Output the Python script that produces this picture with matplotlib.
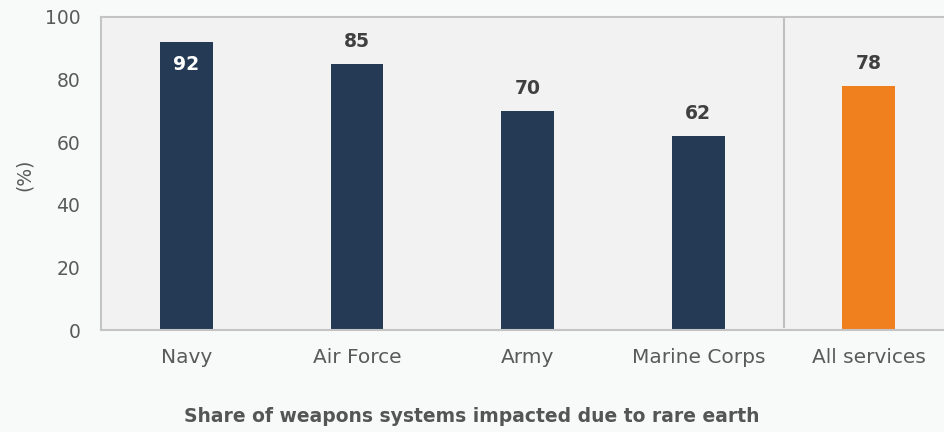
import numpy as np
import matplotlib.pyplot as plt

services = ['Navy', 'Air Force', 'Army', 'Marine Corps', 'All services']
share = [92, 85, 70, 62, 78]
bar_colors = ['#243a55', '#243a55', '#243a55', '#243a55', '#f0801e']
yticks = [0, 20, 40, 60, 80, 100]

plt.rcParams['font.family'] = ['DejaVu Sans']

fig = plt.figure(figsize=(9.44, 4.32), dpi=100, facecolor='#f8f9f9')
ax = fig.add_axes([101 / 944, 1 - 330 / 432, 843 / 944, 313 / 432])
ax.set_facecolor('#f2f2f2')

x = np.arange(len(services))
ax.bar(x, share, width=0.31, color=bar_colors, zorder=2)

# value labels: inside the bar when it reaches the top, above otherwise
for xi, v in zip(x, share):
    if v > 90:
        ax.text(xi, v - 4, str(v), ha='center', va='top', color='white',
                fontsize=13.5, fontweight='bold')
    else:
        ax.text(xi, v + 4.2, str(v), ha='center', va='bottom', color='#404040',
                fontsize=13.5, fontweight='bold')

# separator between individual services and the total
ax.plot([3.5, 3.5], [1, 100], color='#c0c0c0', lw=1.5, zorder=1)

ax.set_xlim(-0.5, 4.44)
ax.set_ylim(0, 100)
ax.set_yticks(yticks)
ax.set_xticks(x)
ax.set_xticklabels(services, fontsize=14.5)
ax.tick_params(axis='both', length=0, colors='#5a5a5a')
ax.tick_params(axis='y', labelsize=13.5, pad=15)
ax.tick_params(axis='x', pad=13)
for side in ['top', 'left', 'bottom']:
    ax.spines[side].set_color('#c4c4c4')
    ax.spines[side].set_linewidth(1.5)
ax.spines['right'].set_visible(False)

ax.set_ylabel('(%)', fontsize=13.5, color='#5a5a5a')
ax.yaxis.set_label_coords(-0.08, 0.495)
fig.text(0.5, 1 - 417 / 432, 'Share of weapons systems impacted due to rare earth',
         ha='center', va='center', fontsize=13.5, fontweight='bold', color='#555555')

fig.savefig('out.png', dpi=100, facecolor=fig.get_facecolor())
